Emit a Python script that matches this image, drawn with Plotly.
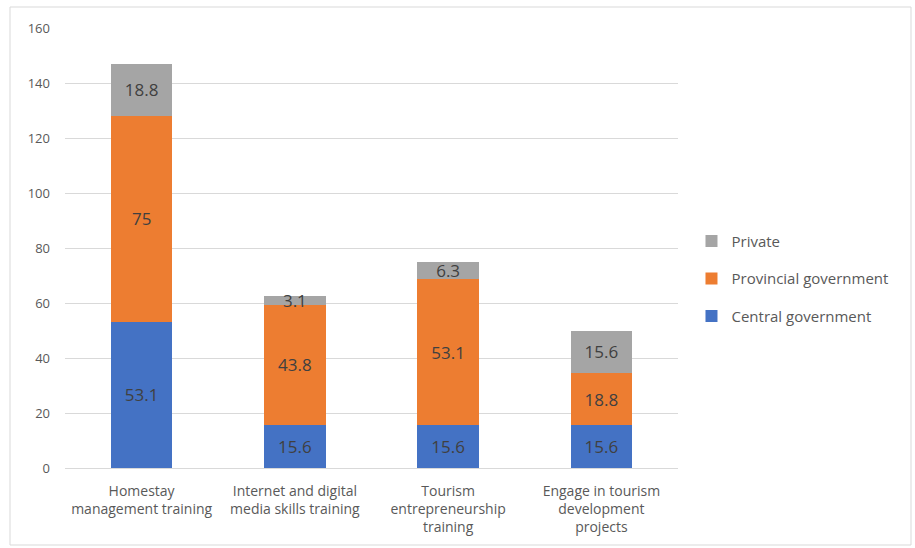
import plotly.graph_objects as go

categories = ["Homestay<br>management training", "Internet and digital<br>media skills training",
              "Tourism<br>entrepreneurship<br>training", "Engage in tourism<br>development<br>projects"]
central = [53.1, 15.6, 15.6, 15.6]
provincial = [75, 43.8, 53.1, 18.8]
private = [18.8, 3.1, 6.3, 15.6]
y_ticks = [0, 20, 40, 60, 80, 100, 120, 140, 160]

FONT = "Open Sans"
fig = go.Figure()
series = [("Central government", central, "#4472C4", 3),
          ("Provincial government", provincial, "#ED7D31", 2),
          ("Private", private, "#A5A5A5", 1)]
for i, (name, vals, col, rank) in enumerate(series):
    fig.add_trace(go.Bar(
        x=categories, y=vals, name=name, marker=dict(color=col, line=dict(width=0)),
        text=[str(v) for v in vals], textposition="inside", insidetextanchor="middle",
        constraintext="none", cliponaxis=False,
        textfont=dict(size=17, color="#404040", family=FONT),
        legendgroup=str(i), legendrank=rank,
    ))

fig.update_layout(
    barmode="stack", bargap=0.6,
    width=915, height=548,
    margin=dict(l=65, r=237, t=28, b=80),
    plot_bgcolor="white", paper_bgcolor="white",
    font=dict(family=FONT, color="#595959"),
    yaxis=dict(range=[0, 160], tickvals=y_ticks, showgrid=True, gridcolor="#D9D9D9",
               gridwidth=1, zeroline=False, showline=False,
               tickfont=dict(size=13, color="#595959"), ticks="", ticklabelstandoff=14),
    xaxis=dict(showline=True, linecolor="#D9D9D9", linewidth=1, ticks="",
               tickfont=dict(size=14, color="#595959"), ticklabelstandoff=10),
    legend=dict(x=1.022, y=0.43, xanchor="left", yanchor="middle",
                traceorder="grouped", tracegroupgap=15, bgcolor="rgba(0,0,0,0)",
                font=dict(size=15, color="#595959"), itemwidth=30),
    showlegend=True,
    shapes=[dict(type="rect", xref="paper", yref="paper",
                 x0=-55/613, x1=(911-65)/613, y0=-(545-468)/440, y1=(468-7)/440,
                 line=dict(color="#D9D9D9", width=1), fillcolor="rgba(0,0,0,0)")],
)
fig.write_html("out.html")
